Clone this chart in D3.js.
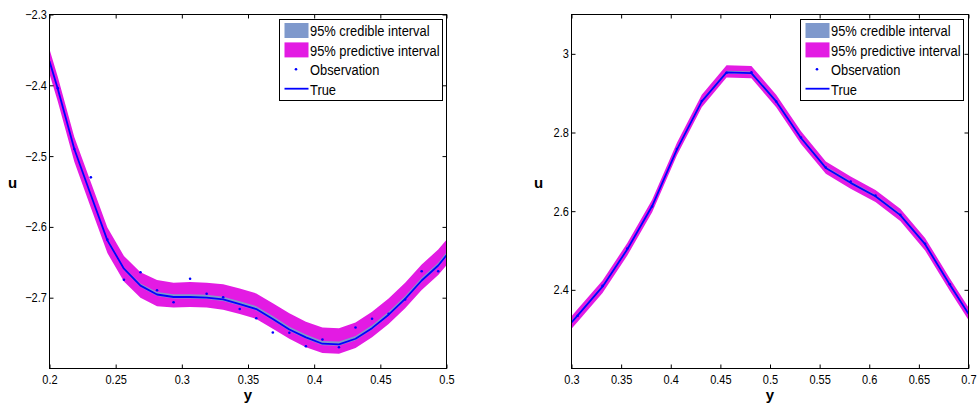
<!DOCTYPE html>
<html>
<head>
<meta charset="utf-8">
<script src="https://cdn.jsdelivr.net/npm/d3@7/dist/d3.min.js"></script>
<style>
  html, body { margin: 0; padding: 0; background: #fff; }
  svg { display: block; }
  text { font-family: "Liberation Sans", Arial, Helvetica, sans-serif; fill: #000; }
</style>
</head>
<body>
<svg id="chart" width="980" height="408"></svg>
<script>
// ---- Left panel data (u on y in [0.2, 0.5]) ----
const leftX = [0.2, 0.20625, 0.21875, 0.23125, 0.24375, 0.25625, 0.26875, 0.28125, 0.29375,
  0.30625, 0.31875, 0.33125, 0.34375, 0.35625, 0.36875, 0.38125, 0.39375, 0.40625, 0.41875,
  0.43125, 0.44375, 0.45625, 0.46875, 0.48125, 0.49375, 0.5];
const leftTrue = [-2.366, -2.405, -2.490, -2.555, -2.619, -2.659, -2.683, -2.6955, -2.699,
  -2.699, -2.700, -2.7025, -2.709, -2.716, -2.730, -2.745, -2.756, -2.765, -2.766,
  -2.758, -2.743, -2.724, -2.7016, -2.6757, -2.6545, -2.640];
const leftCredLo = [-2.368, -2.407, -2.492, -2.557, -2.621, -2.661, -2.685, -2.6975, -2.701,
  -2.701, -2.702, -2.7045, -2.711, -2.718, -2.732, -2.747, -2.758, -2.767, -2.768,
  -2.760, -2.745, -2.726, -2.7036, -2.6777, -2.6565, -2.642];
const leftCredHi = [-2.364, -2.403, -2.488, -2.553, -2.617, -2.657, -2.680, -2.692, -2.695,
  -2.695, -2.696, -2.6985, -2.705, -2.712, -2.726, -2.741, -2.752, -2.761, -2.762,
  -2.754, -2.739, -2.720, -2.6976, -2.6717, -2.6505, -2.636];
const leftPredLo = [-2.384, -2.423, -2.508, -2.573, -2.637, -2.677, -2.700, -2.712, -2.714,
  -2.713, -2.714, -2.717, -2.723, -2.730, -2.744, -2.758, -2.770, -2.778, -2.779,
  -2.771, -2.756, -2.737, -2.715, -2.689, -2.668, -2.654];
const leftPredHi = [-2.349, -2.388, -2.473, -2.537, -2.601, -2.641, -2.664, -2.675, -2.679,
  -2.678, -2.679, -2.681, -2.687, -2.694, -2.708, -2.722, -2.734, -2.742, -2.743,
  -2.735, -2.720, -2.701, -2.679, -2.653, -2.632, -2.618];
const leftObsX = [0.20625, 0.21875, 0.23125, 0.24375, 0.25625, 0.26875, 0.28125, 0.29375,
  0.30625, 0.31875, 0.33125, 0.34375, 0.35625, 0.36875, 0.38125, 0.39375, 0.40625, 0.41875,
  0.43125, 0.44375, 0.45625, 0.46875, 0.48125, 0.49375];
const leftObsU = [-2.404, -2.490, -2.530, -2.618, -2.6747, -2.664, -2.6894, -2.7064,
  -2.6733, -2.6945, -2.6993, -2.716, -2.729, -2.7492, -2.7496, -2.7685, -2.759, -2.770,
  -2.7421, -2.7298, -2.7227, -2.7025, -2.6626, -2.6626];
const leftXTicks = [0.2, 0.25, 0.3, 0.35, 0.4, 0.45, 0.5];
const leftYTicks = [-2.7, -2.6, -2.5, -2.4, -2.3];

// ---- Right panel data (u on y in [0.3, 0.7]) ----
const rightX = [0.3, 0.30625, 0.33125, 0.35625, 0.38125, 0.40625, 0.43125, 0.45625, 0.48125,
  0.50625, 0.53125, 0.55625, 0.58125, 0.60625, 0.63125, 0.65625, 0.68125, 0.7];
const rightTrue = [2.317, 2.335, 2.408, 2.503, 2.613, 2.757, 2.879, 2.953, 2.951,
  2.879, 2.786, 2.710, 2.672, 2.638, 2.590, 2.516, 2.413, 2.339];
const rightCredLo = [2.314, 2.332, 2.405, 2.500, 2.610, 2.754, 2.876, 2.950, 2.948,
  2.876, 2.783, 2.707, 2.669, 2.635, 2.587, 2.513, 2.410, 2.336];
const rightCredHi = [2.321, 2.339, 2.412, 2.507, 2.617, 2.761, 2.883, 2.957, 2.955,
  2.883, 2.790, 2.714, 2.676, 2.642, 2.594, 2.520, 2.417, 2.343];
const rightPredLo = [2.301, 2.319, 2.392, 2.487, 2.597, 2.742, 2.864, 2.940, 2.938,
  2.864, 2.771, 2.695, 2.657, 2.623, 2.575, 2.500, 2.397, 2.323];
const rightPredHi = [2.333, 2.351, 2.424, 2.519, 2.629, 2.774, 2.896, 2.971, 2.969,
  2.896, 2.803, 2.726, 2.688, 2.654, 2.606, 2.532, 2.429, 2.355];
const rightObsX = [0.30625, 0.33125, 0.35625, 0.38125, 0.40625, 0.43125, 0.45625, 0.48125,
  0.50625, 0.53125, 0.55625, 0.58125, 0.60625, 0.63125, 0.65625, 0.68125];
const rightObsU = [2.334, 2.410, 2.505, 2.612, 2.758, 2.880, 2.952, 2.953,
  2.879, 2.787, 2.711, 2.675, 2.640, 2.591, 2.517, 2.414];
const rightXTicks = [0.3, 0.35, 0.4, 0.45, 0.5, 0.55, 0.6, 0.65, 0.7];
const rightYTicks = [2.4, 2.6, 2.8, 3.0];

const legendLabels = ["95% credible interval", "95% predictive interval", "Observation", "True"];

const COLORS = { cred: "#7f99cc", pred: "#e31be3", line: "#0000ff", obs: "#0000ff" };
const fmt = d3.format("~g");
const svg = d3.select("#chart");

function zip(xs, ...cols) {
  return xs.map((x, i) => ({ x, v: cols.map(c => c[i]) }));
}

function drawPanel(cfg) {
  const x = d3.scaleLinear().domain(cfg.xDomain).range(cfg.xRange);
  const y = d3.scaleLinear().domain(cfg.yDomain).range([368.5, 14.5]);
  const [x0, x1] = cfg.xRange;
  const g = svg.append("g");

  const clipId = "clip-" + cfg.id;
  svg.append("clipPath").attr("id", clipId)
    .append("rect").attr("x", x0).attr("y", 14.5).attr("width", x1 - x0).attr("height", 354);

  const plot = g.append("g").attr("clip-path", `url(#${clipId})`);
  const rows = zip(cfg.xs, cfg.predLo, cfg.predHi, cfg.credLo, cfg.credHi, cfg.trueU);

  plot.append("path").datum(rows)
    .attr("fill", COLORS.pred)
    .attr("d", d3.area().x(d => x(d.x)).y0(d => y(d.v[0])).y1(d => y(d.v[1])));
  plot.append("path").datum(rows)
    .attr("fill", COLORS.cred)
    .attr("d", d3.area().x(d => x(d.x)).y0(d => y(d.v[2])).y1(d => y(d.v[3])));
  plot.append("path").datum(rows)
    .attr("fill", "none").attr("stroke", COLORS.line).attr("stroke-width", 1.8)
    .attr("stroke-linejoin", "round")
    .attr("d", d3.line().x(d => x(d.x)).y(d => y(d.v[4])));
  plot.selectAll("circle.obs").data(zip(cfg.obsX, cfg.obsU)).join("circle")
    .attr("class", "obs").attr("cx", d => x(d.x)).attr("cy", d => y(d.v[0]))
    .attr("r", 1.3).attr("fill", COLORS.obs);

  // Axes: ticks point inward on all four sides
  const squeeze = sel => sel.selectAll("text")
    .attr("font-size", "12.5px")
    .attr("font-family", "'Liberation Sans', Arial, sans-serif")
    .attr("fill", "#000");
  const bottom = g.append("g").attr("transform", "translate(0,368.5)")
    .call(d3.axisBottom(x).tickValues(cfg.xTicks).tickFormat(fmt).tickSize(-4).tickSizeOuter(0).tickPadding(7));
  squeeze(bottom);
  bottom.selectAll(".tick text").attr("transform", "scale(0.88,1)");
  const left = g.append("g").attr("transform", `translate(${x0},0)`)
    .call(d3.axisLeft(y).tickValues(cfg.yTicks).tickFormat(fmt).tickSize(-4).tickSizeOuter(0).tickPadding(3));
  squeeze(left);
  left.selectAll(".tick text").attr("transform", "scale(0.88,1)");
  g.append("g").attr("transform", "translate(0,14.5)")
    .call(d3.axisTop(x).tickValues(cfg.xTicks).tickFormat("").tickSize(-4).tickSizeOuter(0));
  g.append("g").attr("transform", `translate(${x1},0)`)
    .call(d3.axisRight(y).tickValues(cfg.yTicks).tickFormat("").tickSize(-4).tickSizeOuter(0));
  g.selectAll(".domain").remove();
  g.selectAll(".tick line").attr("stroke", "#000");
  g.append("rect").attr("x", x0).attr("y", 14.5).attr("width", x1 - x0).attr("height", 354)
    .attr("fill", "none").attr("stroke", "#000").attr("stroke-width", 1);

  // Axis titles
  g.append("text").attr("x", (x0 + x1) / 2).attr("y", 399.5).attr("text-anchor", "middle")
    .attr("font-size", "15px").attr("font-weight", "bold").text("y");
  g.append("text").attr("x", cfg.uX).attr("y", 188).attr("text-anchor", "middle")
    .attr("font-size", "15px").attr("font-weight", "bold").text("u");

  // Legend
  const lg = g.append("g").attr("transform", `translate(${cfg.legendX},19.5)`);
  lg.append("rect").attr("width", 163).attr("height", 81)
    .attr("fill", "#fff").attr("stroke", "#000").attr("stroke-width", 1);
  const rowY = i => 11 + i * 19.4;
  lg.append("rect").attr("x", 5).attr("y", rowY(0) - 7.5).attr("width", 24).attr("height", 15).attr("fill", COLORS.cred);
  lg.append("rect").attr("x", 5).attr("y", rowY(1) - 7.5).attr("width", 24).attr("height", 15).attr("fill", COLORS.pred);
  lg.append("circle").attr("cx", 16.5).attr("cy", rowY(2)).attr("r", 1.3).attr("fill", COLORS.obs);
  lg.append("line").attr("x1", 5).attr("x2", 29).attr("y1", rowY(3)).attr("y2", rowY(3))
    .attr("stroke", COLORS.line).attr("stroke-width", 1.8);
  legendLabels.forEach((t, i) => {
    lg.append("text")
      .attr("transform", `translate(30.5,${rowY(i) + 5.8}) scale(0.86,1)`)
      .attr("font-size", "15px").text(t);
  });
}

drawPanel({
  id: "left", xDomain: [0.2, 0.5], xRange: [49.5, 446.5], yDomain: [-2.8, -2.3],
  xs: leftX, trueU: leftTrue, credLo: leftCredLo, credHi: leftCredHi,
  predLo: leftPredLo, predHi: leftPredHi, obsX: leftObsX, obsU: leftObsU,
  xTicks: leftXTicks, yTicks: leftYTicks, uX: 12.5, legendX: 279.5
});
drawPanel({
  id: "right", xDomain: [0.3, 0.7], xRange: [571.5, 968.5], yDomain: [2.2, 3.1],
  xs: rightX, trueU: rightTrue, credLo: rightCredLo, credHi: rightCredHi,
  predLo: rightPredLo, predHi: rightPredHi, obsX: rightObsX, obsU: rightObsU,
  xTicks: rightXTicks, yTicks: rightYTicks, uX: 538.5, legendX: 800.5
});
</script>
</body>
</html>
